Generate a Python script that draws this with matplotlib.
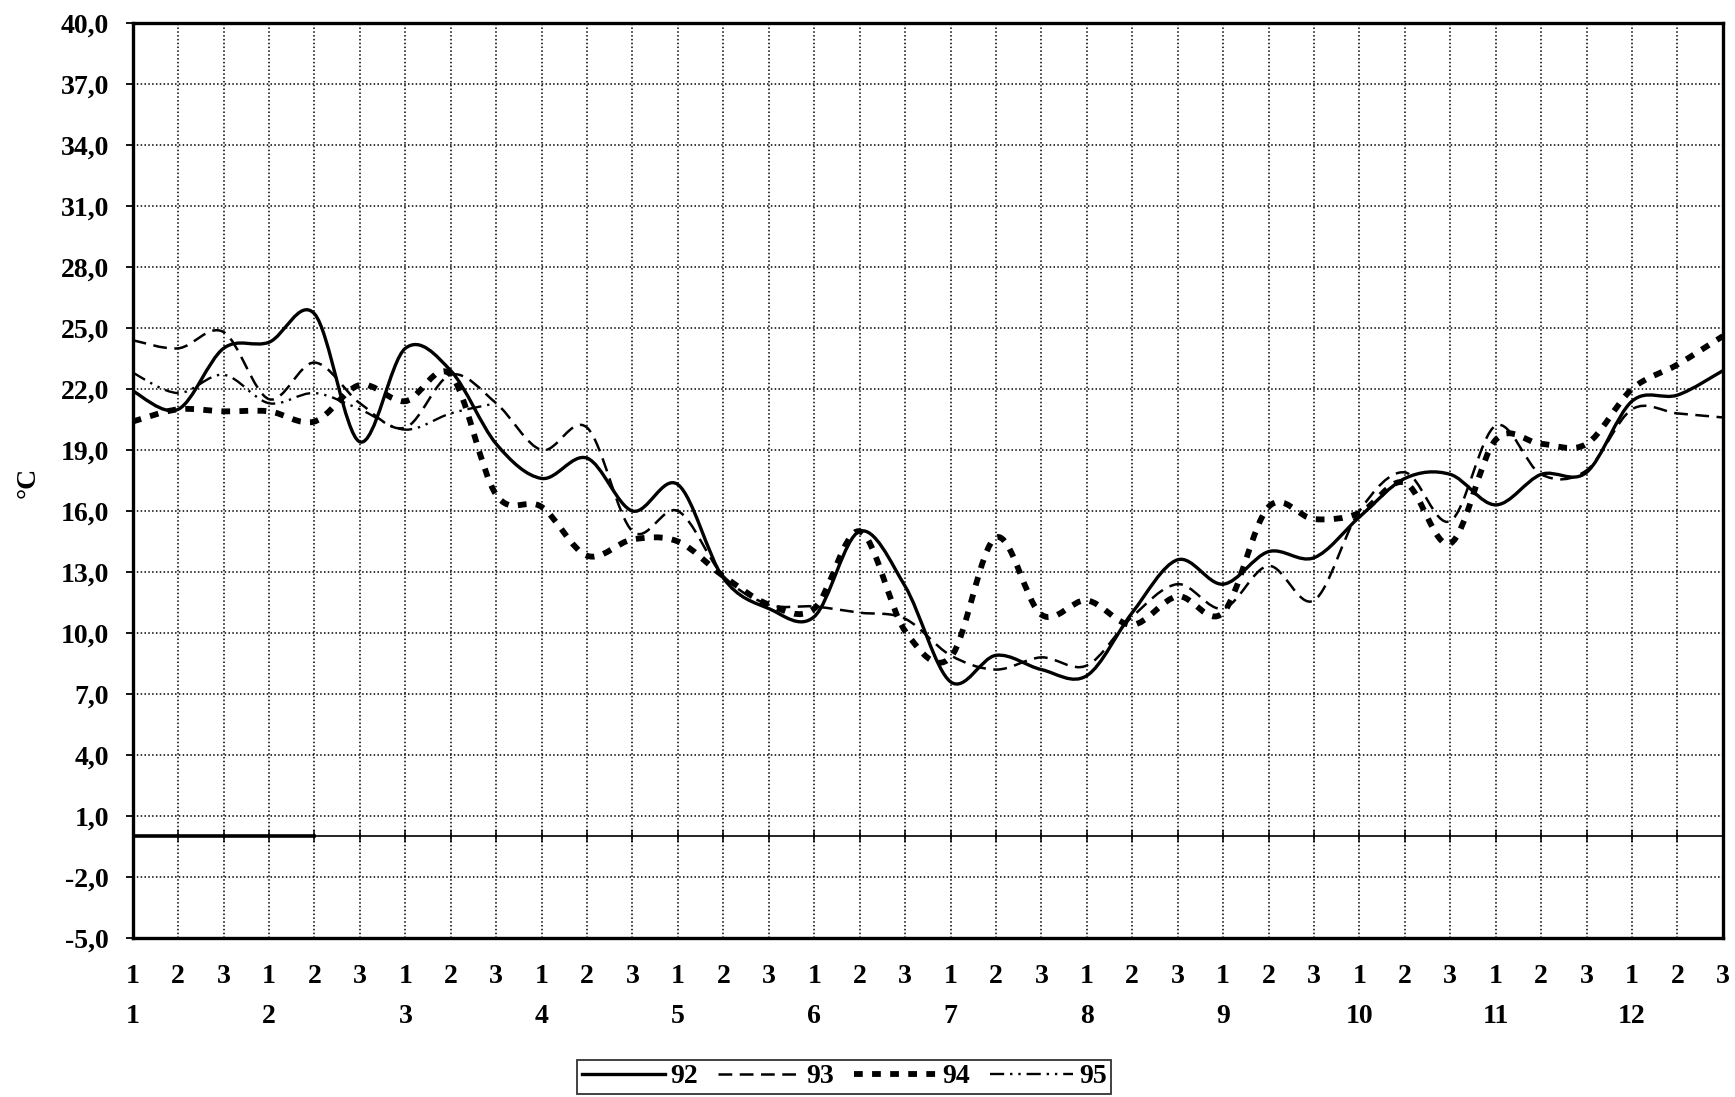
import matplotlib
matplotlib.use("Agg")
import matplotlib.pyplot as plt
from matplotlib.path import Path
from matplotlib.patches import PathPatch
from matplotlib.lines import Line2D

# DATA
dekads = list(range(1, 37))
dekad_labels = ["1", "2", "3"] * 12
months = [str(m) for m in range(1, 13)]
month_pos = [1 + 3 * i for i in range(12)]
yticks = [-5, -2, 1, 4, 7, 10, 13, 16, 19, 22, 25, 28, 31, 34, 37, 40]

t92 = [21.9, 21.0, 24.0, 24.3, 25.7, 19.4, 24.0, 22.9, 19.3, 17.6, 18.6, 16.0,
       17.3, 12.7, 11.2, 10.8, 15.0, 12.3, 7.6, 8.9, 8.2, 7.9, 11.0, 13.6,
       12.4, 14.0, 13.7, 15.7, 17.6, 17.8, 16.3, 17.8, 17.9, 21.4, 21.7, 22.9]
t93 = [24.4, 24.0, 24.8, 21.5, 23.3, 21.3, 20.1, 22.7, 21.3, 19.0, 20.1, 15.0,
       16.0, 12.8, 11.4, 11.3, 11.0, 10.7, 8.9, 8.2, 8.8, 8.4, 10.8, 12.4,
       11.2, 13.3, 11.6, 16.0, 17.9, 15.5, 20.2, 17.8, 18.0, 21.0, 20.8, 20.6]
t94 = [20.4, 21.0, 20.9, 20.9, 20.4, 22.2, 21.4, 22.7, 16.8, 16.2, 13.8, 14.6,
       14.5, 12.8, 11.4, 11.2, 15.0, 10.1, 8.8, 14.7, 10.9, 11.6, 10.4, 11.8,
       11.0, 16.2, 15.6, 15.9, 17.4, 14.4, 19.5, 19.3, 19.3, 22.0, 23.2, 24.6]
t95 = [22.8, 21.8, 22.7, 21.3, 21.8, 21.0, 20.0, 20.8, 21.3]
base = [0, 0, 0, 0, 0]

styles = {
    "92": dict(lw=2.4, ls="-"),
    "93": dict(lw=1.8, ls=(0, (5.5, 3))),
    "94": dict(lw=4.2, ls=(0, (1.5, 1.6))),
    "95": dict(lw=1.7, ls=(0, (6, 2.5, 1, 2.5, 1, 2.5))),
}
series = [("92", t92), ("93", t93), ("94", t94), ("95", t95)]

plt.rcParams['font.family'] = ['Liberation Serif', 'DejaVu Serif']
plt.rcParams['font.weight'] = 'bold'


def smooth_path(x, y):
    # excel style smoothed line as bezier segments
    n = len(x)
    verts = [(x[0], y[0])]
    codes = [Path.MOVETO]
    for i in range(n - 1):
        xa, ya = (x[i - 1], y[i - 1]) if i > 0 else (x[i], y[i])
        xb, yb = (x[i + 2], y[i + 2]) if i + 2 < n else (x[i + 1], y[i + 1])
        c1 = (x[i] + (x[i + 1] - xa) / 6, y[i] + (y[i + 1] - ya) / 6)
        c2 = (x[i + 1] - (xb - x[i]) / 6, y[i + 1] - (yb - y[i]) / 6)
        verts += [c1, c2, (x[i + 1], y[i + 1])]
        codes += [Path.CURVE4] * 3
    return Path(verts, codes)


# PLOTTING
fig = plt.figure(figsize=(17.35, 10.97), dpi=100)
ax = fig.add_axes([0.0765, 0.145, 0.9165, 0.834])

for name, vals in series:
    st = styles[name]
    p = PathPatch(smooth_path(dekads[:len(vals)], vals), fill=False,
                  edgecolor="black", linewidth=st["lw"], linestyle=st["ls"],
                  capstyle="butt", joinstyle="round", zorder=3)
    ax.add_patch(p)

# zero axis line with cross ticks
ax.axhline(0, color="black", lw=1.2, zorder=2)
ax.plot(dekads, [0] * len(dekads), ls="none", marker="|", ms=9, mew=1.1,
        color="black", zorder=2)
ax.plot(dekads[:len(base)], base, color="black", lw=2.6, zorder=2)

ax.set_xlim(1, 36)
ax.set_ylim(-5, 40)
ax.set_yticks(yticks)
ax.set_yticklabels([("%.1f" % v).replace(".", ",") for v in yticks])
ax.set_xticks(dekads)
ax.set_xticklabels(dekad_labels)
ax.tick_params(axis="y", length=5, width=1.3, pad=12, labelsize=20)
ax.tick_params(axis="x", length=0, pad=19, labelsize=20)

for m, xp in zip(months, month_pos):
    ax.annotate(m, xy=(xp, -0.086), xycoords=("data", "axes fraction"),
                ha="center", va="center", fontsize=20, fontweight="bold")

ax.grid(True, color="black", lw=1.1, ls=(0, (1.0, 1.5)))
for s in ax.spines.values():
    s.set_linewidth(2.4)

fig.text(0.016, 0.56, "°C", rotation=90, ha="center", va="center",
         fontsize=20, fontweight="bold")

# LEGEND
handles = [Line2D([], [], color="black", lw=styles[n]["lw"], ls=styles[n]["ls"],
                  dash_capstyle="butt") for n, _ in series]
leg = fig.legend(handles, [n for n, _ in series], loc="center",
                 bbox_to_anchor=(0.4865, 0.0185), ncol=4, fontsize=20,
                 handlelength=3.0, handletextpad=0.2, columnspacing=0.7,
                 borderpad=0.15, frameon=True, fancybox=False, borderaxespad=0)
leg.get_frame().set_edgecolor("black")
leg.get_frame().set_linewidth(1.3)

fig.savefig("out.png", dpi=100)
